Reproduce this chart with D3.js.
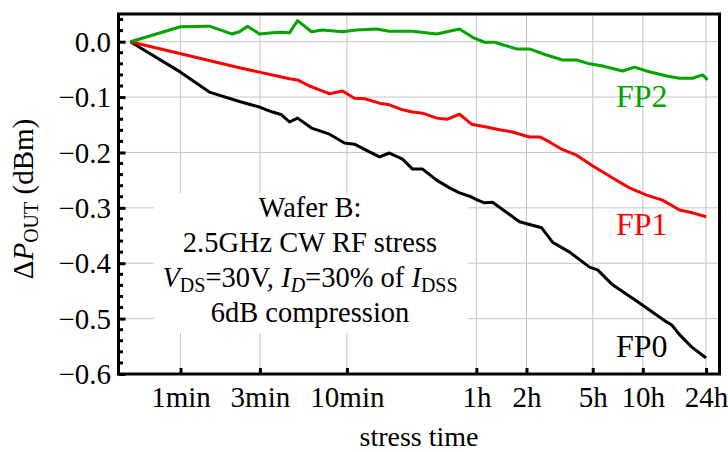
<!DOCTYPE html>
<html><head><meta charset="utf-8">
<script src="https://cdn.jsdelivr.net/npm/d3@7"></script>
<style>body{margin:0;background:#fff} text{font-family:"Liberation Serif","Times New Roman",serif;}</style>
</head><body><svg id="c" width="728" height="452"></svg>
<script>
// stress time in minutes, ΔPOUT in dBm
const fp0Time  = [0.5, 1.0, 1.49, 2.26, 2.98, 3.57, 4.05, 4.52, 5.05, 6.13, 7.86, 9.67, 11.1, 13.3, 15.7, 18.0, 21.6, 24.8, 28.5, 34.6, 41.4, 47.5, 54.6, 61.0, 67.1, 75.0, 109, 148, 172, 218, 287, 321, 395, 573, 833, 893, 997, 1178, 1440];
const fp0Value = [0, -0.055, -0.091, -0.108, -0.118, -0.127, -0.132, -0.145, -0.138, -0.156, -0.167, -0.183, -0.185, -0.197, -0.208, -0.201, -0.212, -0.230, -0.230, -0.250, -0.264, -0.273, -0.279, -0.286, -0.291, -0.290, -0.325, -0.336, -0.362, -0.380, -0.407, -0.412, -0.439, -0.472, -0.506, -0.511, -0.529, -0.551, -0.571];
const fp1Time  = [0.5, 2.26, 2.98, 3.57, 4.52, 5.05, 5.96, 6.84, 7.86, 9.41, 11.1, 12.8, 15.7, 18.0, 21.6, 24.8, 28.5, 34.6, 40.2, 47.5, 56.1, 69.0, 82.6, 98.9, 125, 144, 165, 198, 240, 299, 395, 499, 632, 788, 997, 1194, 1440];
const fp1Value = [0, -0.047, -0.055, -0.060, -0.067, -0.069, -0.080, -0.087, -0.094, -0.089, -0.102, -0.103, -0.111, -0.114, -0.123, -0.127, -0.129, -0.138, -0.140, -0.131, -0.149, -0.154, -0.159, -0.163, -0.172, -0.172, -0.181, -0.195, -0.205, -0.224, -0.246, -0.264, -0.277, -0.286, -0.304, -0.309, -0.316];
const fp2Time  = [0.5, 1.0, 1.49, 2.03, 2.26, 2.53, 2.98, 3.57, 4.05, 4.52, 5.05, 6.13, 7.14, 9.41, 11.4, 15.1, 18.0, 24.8, 34.6, 47.5, 56.9, 67.1, 77.1, 104.5, 125, 158, 198, 240, 287, 344, 453, 535, 632, 833, 997, 1194, 1371, 1469];
const fp2Value = [0, 0.027, 0.028, 0.014, 0.018, 0.028, 0.014, 0.016, 0.017, 0.016, 0.038, 0.018, 0.021, 0.018, 0.021, 0.023, 0.019, 0.019, 0.014, 0.023, 0.008, -0.001, -0.001, -0.013, -0.013, -0.024, -0.033, -0.033, -0.040, -0.044, -0.053, -0.046, -0.053, -0.062, -0.066, -0.066, -0.060, -0.069];
const seriesNames  = ["FP0", "FP1", "FP2"];
const seriesColors = ["#000000", "#ff0000", "#00a400"];
const xTickValues = [1, 3, 10, 60, 120, 300, 600, 1440];
const xTickLabels = ["1min", "3min", "10min", "1h", "2h", "5h", "10h", "24h"];
const yTickValues = [0, -0.1, -0.2, -0.3, -0.4, -0.5, -0.6];
const yTickLabels = ["0.0", "\u22120.1", "\u22120.2", "\u22120.3", "\u22120.4", "\u22120.5", "\u22120.6"];
const yMinorValues = d3.range(0.04, -0.601, -0.02).map(v => +v.toFixed(2));

const L = 118.5, R = 719.5, T = 14, B = 374;
const svg = d3.select("#c");
const x = d3.scaleLog().domain([0.424, 1734]).range([L, R]);
const y = d3.scaleLinear().domain([-0.6, 0.05]).range([B, T]);

// grid
const grid = svg.append("g").attr("stroke", "#c4c4c4").attr("stroke-width", 1);
grid.selectAll("line.v").data(xTickValues).join("line")
  .attr("x1", d => x(d)).attr("x2", d => x(d)).attr("y1", T).attr("y2", B);
grid.selectAll("line.h").data(yTickValues.slice(0, -1)).join("line")
  .attr("x1", L).attr("x2", R).attr("y1", d => y(d)).attr("y2", d => y(d));

// annotation background box
svg.append("rect").attr("x", 154).attr("y", 193).attr("width", 314).attr("height", 140).attr("fill", "#fff");

// curves
const series = [[fp0Time, fp0Value], [fp1Time, fp1Value], [fp2Time, fp2Value]];
const line = d3.line().x(d => x(d[0])).y(d => y(d[1]));
series.forEach((s, i) => {
  const pts = s[0].map((t, j) => [t, s[1][j]]);
  svg.append("path").datum(pts).attr("d", line).attr("fill", "none")
    .attr("stroke", seriesColors[i]).attr("stroke-width", 3).attr("stroke-linejoin", "round");
});

// frame
svg.append("rect").attr("x", L).attr("y", T).attr("width", R - L).attr("height", B - T)
  .attr("fill", "none").attr("stroke", "#000").attr("stroke-width", 3);

// y axis
const yAxis = d3.axisLeft(y).tickValues(yTickValues).tickFormat((d, i) => yTickLabels[i]).tickSizeInner(-7).tickSizeOuter(0).tickPadding(7.5);
const ya = svg.append("g").attr("transform", `translate(${L},0)`).call(yAxis);
ya.select(".domain").remove();
ya.selectAll(".tick line").attr("stroke", "#000").attr("stroke-width", 3);
ya.selectAll(".tick text").attr("font-size", 29).attr("font-family", "Liberation Serif").attr("fill", "#000").attr("dy", "0.33em");
svg.append("g").selectAll("line").data(yMinorValues.filter(v => !yTickValues.some(t => Math.abs(t - v) < 1e-6))).join("line")
  .attr("x1", L).attr("x2", L + 4.5).attr("y1", d => y(d)).attr("y2", d => y(d))
  .attr("stroke", "#000").attr("stroke-width", 3);

// x axis
const xAxis = d3.axisBottom(x).tickValues(xTickValues).tickFormat((d, i) => xTickLabels[i]).tickSizeInner(-6).tickSizeOuter(0).tickPadding(13);
const xa = svg.append("g").attr("transform", `translate(0,${B})`).call(xAxis);
xa.select(".domain").remove();
xa.selectAll(".tick line").attr("stroke", "#000").attr("stroke-width", 3);
xa.selectAll(".tick text").attr("font-size", 29).attr("font-family", "Liberation Serif").attr("fill", "#000").attr("dy", "0.69em");

// axis titles
svg.append("text").attr("x", (L + R) / 2).attr("y", 446).attr("text-anchor", "middle").attr("font-size", 28).text("stress time");
const yl = svg.append("text").attr("transform", "translate(33,199) rotate(-90)").attr("text-anchor", "middle").attr("font-size", 29);
yl.append("tspan").text("\u0394");
yl.append("tspan").attr("font-style", "italic").text("P");
yl.append("tspan").attr("font-size", 20).attr("dy", 5).text("OUT");
yl.append("tspan").attr("dy", -5).text(" (dBm)");

// series labels
const labelY = [357, 235, 107];
seriesNames.forEach((n, i) => {
  svg.append("text").attr("x", 616).attr("y", labelY[i]).attr("font-size", 32).attr("fill", seriesColors[i]).text(n);
});

// annotation
const ax = 310, afs = 28.5, sfs = 20;
svg.append("text").attr("x", ax).attr("y", 217).attr("text-anchor", "middle").attr("font-size", afs).text("Wafer B:");
svg.append("text").attr("x", ax).attr("y", 252).attr("text-anchor", "middle").attr("font-size", afs).text("2.5GHz CW RF stress");
const t3 = svg.append("text").attr("x", ax).attr("y", 287).attr("text-anchor", "middle").attr("font-size", afs);
t3.append("tspan").attr("font-style", "italic").text("V");
t3.append("tspan").attr("font-size", sfs).attr("dy", 5).text("DS");
t3.append("tspan").attr("dy", -5).text("=30V, ");
t3.append("tspan").attr("font-style", "italic").text("I");
t3.append("tspan").attr("font-style", "italic").attr("font-size", sfs).attr("dy", 5).text("D");
t3.append("tspan").attr("dy", -5).text("=30% of ");
t3.append("tspan").attr("font-style", "italic").text("I");
t3.append("tspan").attr("font-size", sfs).attr("dy", 5).text("DSS");
svg.append("text").attr("x", ax).attr("y", 322).attr("text-anchor", "middle").attr("font-size", afs).text("6dB compression");
</script></body></html>
